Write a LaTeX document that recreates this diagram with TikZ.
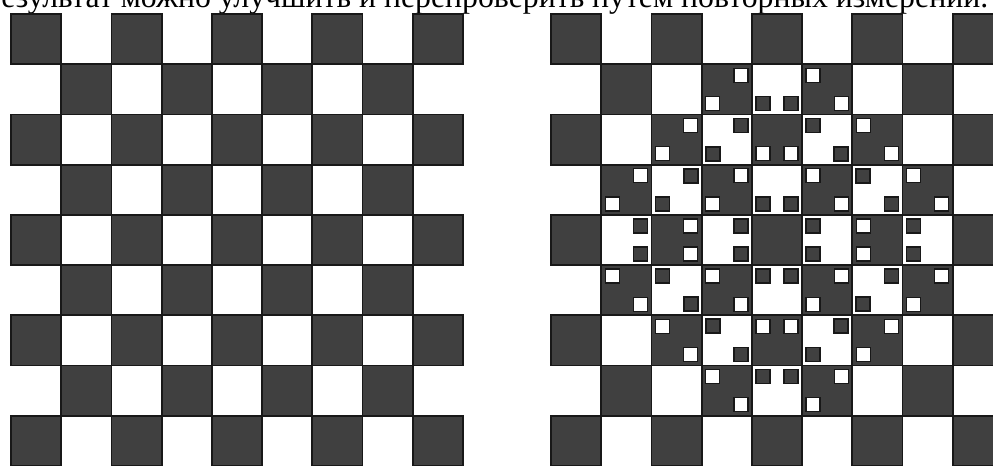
\documentclass[tikz,border=0pt]{standalone}
\usepackage{fontspec}
\setmainfont{Liberation Serif}
\definecolor{cellgray}{HTML}{404040}
\definecolor{celledge}{HTML}{181818}

\begin{document}
\begin{tikzpicture}[
    x=0.5pt, y=-0.5pt,
    darkcell/.style={fill=cellgray, draw=celledge, line width=0.9pt},
    dotwhite/.style={fill=white, draw=celledge, line width=0.7pt},
    dotdark/.style={fill=cellgray, draw=celledge, line width=0.9pt},
    caption/.style={font=\fontsize{15.9}{19}\selectfont, inner sep=0pt, anchor=base west},
]
\def\cs{50.2}

\useasboundingbox (0,0) rectangle (993,466);
\clip (0,0) rectangle (993,466);

% === Caption line, cut at the top ===
\node[caption] (caption) at (1,7.3)
    {езультат можно улучшить и перепроверить путем повторных измерений.};

% === Two plain boards ===
\foreach \bx in {11,551} {
  \foreach \r in {0,...,8} {
    \foreach \c in {0,...,8} {
      \pgfmathtruncatemacro\parity{mod(\r+\c,2)}
      \ifnum\parity=0
        \draw[darkcell] ({\bx+\c*\cs},{14+\r*\cs}) rectangle ++(\cs,\cs);
      \fi
    }
  }
}

% === Small squares on the right board ===
\foreach \r in {1,...,7} {
  \foreach \c in {1,...,7} {
    \pgfmathtruncatemacro\dx{\c-4}
    \pgfmathtruncatemacro\dy{\r-4}
    \pgfmathtruncatemacro\dist{abs(\dx)+abs(\dy)}
    \pgfmathtruncatemacro\parity{mod(\r+\c,2)}
    \ifnum\dist>0 \ifnum\dist<5
      \pgfmathtruncatemacro\ax{(\dy)==0 ? ((\dx)<0 ? 1 : 0) : ((\dx)==0 ? 0 : ((\dx)*(\dy)>0 ? 1 : 0))}
      \pgfmathtruncatemacro\ay{(\dx)==0 ? ((\dy)<0 ? 1 : 0) : 0}
      \pgfmathtruncatemacro\bx{(\dy)==0 ? ((\dx)<0 ? 1 : 0) : ((\dx)==0 ? 1 : ((\dx)*(\dy)>0 ? 0 : 1))}
      \pgfmathtruncatemacro\by{(\dx)==0 ? ((\dy)<0 ? 1 : 0) : 1}
      \ifnum\parity=0 \def\dotstyle{dotwhite}\else\def\dotstyle{dotdark}\fi
      \draw[\dotstyle] ({551+\c*\cs+4+\ax*28.2},{14+\r*\cs+4+\ay*28.2}) rectangle ++(14,14);
      \draw[\dotstyle] ({551+\c*\cs+4+\bx*28.2},{14+\r*\cs+4+\by*28.2}) rectangle ++(14,14);
    \fi\fi
  }
}

\end{tikzpicture}
\end{document}
